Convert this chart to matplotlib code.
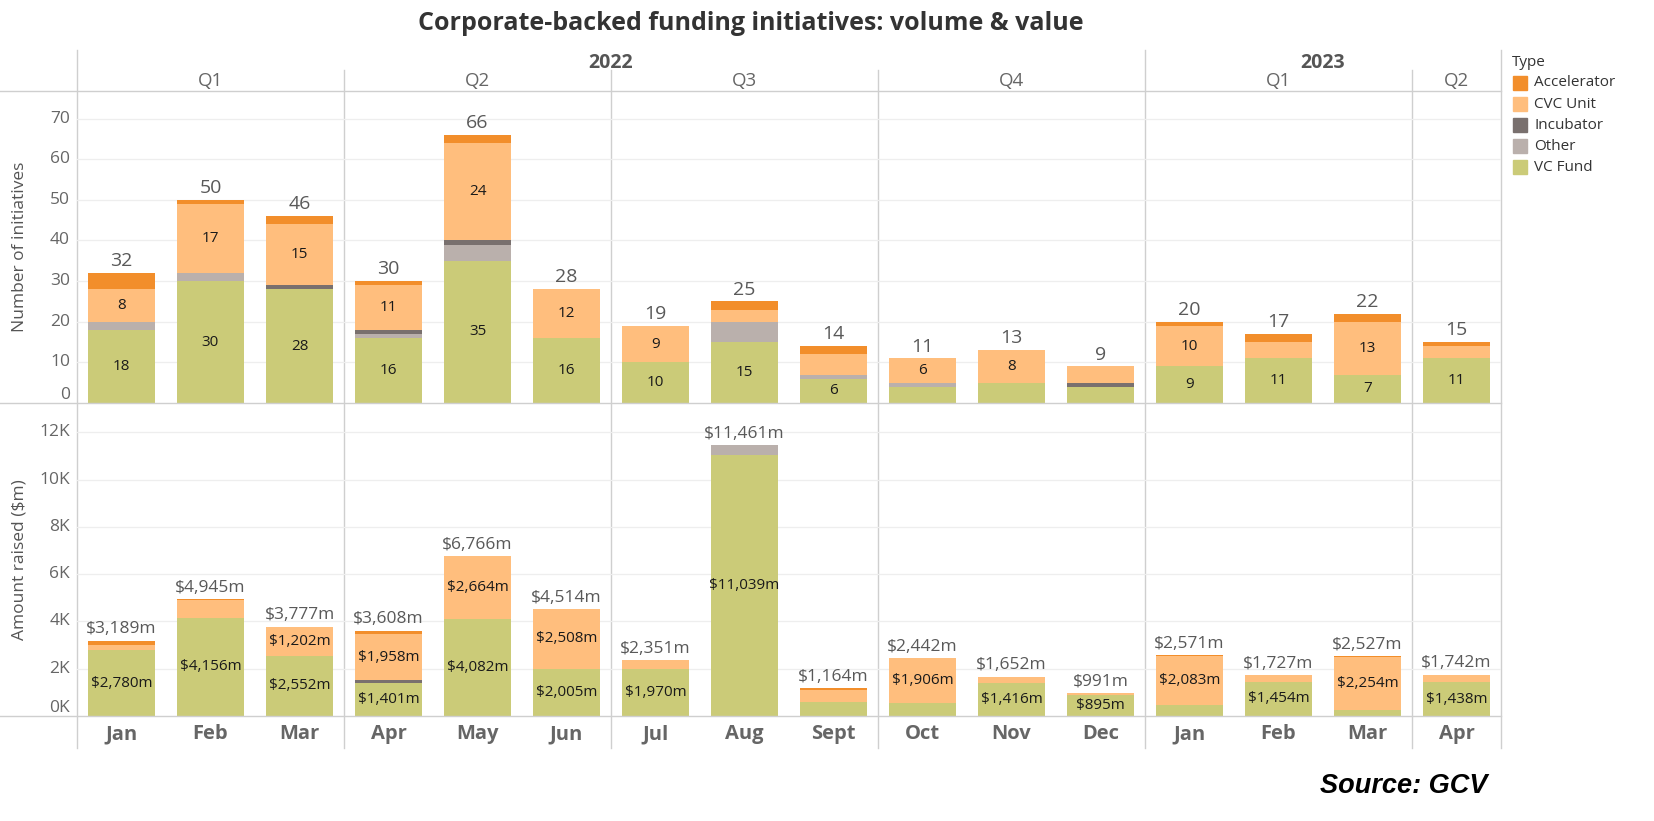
import numpy as np
import matplotlib
matplotlib.use("Agg")
import matplotlib.pyplot as plt
from matplotlib.lines import Line2D
from matplotlib.patches import Rectangle
import matplotlib.transforms as mtransforms

plt.rcParams['font.family'] = ['Open Sans', 'DejaVu Sans']

# ---- data ----
months = ['Jan', 'Feb', 'Mar', 'Apr', 'May', 'Jun', 'Jul', 'Aug', 'Sept',
          'Oct', 'Nov', 'Dec', 'Jan', 'Feb', 'Mar', 'Apr']
quarters = ['Q1', 'Q2', 'Q3', 'Q4', 'Q1', 'Q2']
quarter_len = [3, 3, 3, 3, 3, 1]
years = ['2022', '2023']
year_len = [12, 4]

types = ['VC Fund', 'Other', 'Incubator', 'CVC Unit', 'Accelerator']  # stack order
colors = {'Accelerator': '#F28E2B', 'CVC Unit': '#FFBE7D', 'Incubator': '#79706E',
          'Other': '#BAB0AC', 'VC Fund': '#CBCB78'}

# number of initiatives
vc_n = [18, 30, 28, 16, 35, 16, 10, 15, 6, 4, 5, 4, 9, 11, 7, 11]
oth_n = [2, 2, 0, 1, 4, 0, 0, 5, 1, 1, 0, 0, 0, 0, 0, 0]
inc_n = [0, 0, 1, 1, 1, 0, 0, 0, 0, 0, 0, 1, 0, 0, 0, 0]
cvc_n = [8, 17, 15, 11, 24, 12, 9, 3, 5, 6, 8, 4, 10, 4, 13, 3]
acc_n = [4, 1, 2, 1, 2, 0, 0, 2, 2, 0, 0, 0, 1, 2, 2, 1]

# amount raised ($m)
vc_a = [2780, 4156, 2552, 1401, 4082, 2005, 1970, 11039, 593, 536, 1416, 895, 466, 1454, 254, 1438]
oth_a = [0, 0, 0, 0, 20, 0, 0, 409, 0, 0, 0, 0, 0, 0, 0, 0]
inc_a = [0, 0, 0, 108, 0, 0, 0, 0, 0, 0, 0, 0, 0, 0, 0, 0]
cvc_a = [210, 759, 1202, 1958, 2664, 2508, 381, 0, 508, 1906, 236, 96, 2083, 263, 2254, 294]
acc_a = [199, 30, 23, 141, 0, 1, 0, 13, 63, 0, 0, 0, 22, 10, 19, 10]

counts = {'VC Fund': vc_n, 'Other': oth_n, 'Incubator': inc_n, 'CVC Unit': cvc_n, 'Accelerator': acc_n}
amounts = {'VC Fund': vc_a, 'Other': oth_a, 'Incubator': inc_a, 'CVC Unit': cvc_a, 'Accelerator': acc_a}

# ---- layout helpers (pixel -> figure fraction) ----
W, H = 1654, 821
def fx(px): return px / W
def fy(py): return 1 - py / H

X0, X1 = 77, 1501
HEAD, MID, BASE = 91, 403, 716
LINE = '#cfcfcf'
GREY = '#666666'

fig = plt.figure(figsize=(W / 100, H / 100), dpi=100)
ax_top = fig.add_axes([fx(X0), fy(MID), fx(X1) - fx(X0), fy(HEAD) - fy(MID)])
ax_bot = fig.add_axes([fx(X0), fy(BASE), fx(X1) - fx(X0), fy(MID) - fy(BASE)])
frame = fig.add_axes([fx(X0), fy(748), fx(X1) - fx(X0), fy(50) - fy(748)])
frame.set_zorder(-1)
frame.set_xlim(-0.5, 15.5)
frame.set_ylim(748, 50)
frame.axis('off')

x = np.arange(len(months))
bar_w = 0.75


def draw_panel(ax, data, ymax, ticks, tick_fmt, total_fmt, seg_fmt, thresh, tot_size, tot_off):
    ax.set_facecolor('none')
    ax.set_xlim(-0.5, 15.5)
    ax.set_ylim(0, ymax)
    bottom = np.zeros(len(months))
    for t in types:
        vals = np.array(data[t], dtype=float)
        ax.bar(x, vals, bar_w, bottom=bottom, color=colors[t], linewidth=0, zorder=2)
        for i, v in enumerate(vals):
            if v >= thresh:
                ax.text(x[i], bottom[i] + v / 2, seg_fmt(v), ha='center', va='center',
                        fontsize=11, color='#1a1a1a', zorder=3)
        bottom += vals
    for i, tot in enumerate(bottom):
        ax.annotate(total_fmt(tot), (x[i], tot), xytext=(0, tot_off), textcoords='offset points',
                    ha='center', va='bottom', fontsize=tot_size, color='#595959')
    for tk in ticks[1:]:
        ax.axhline(tk, color='#eeeeee', linewidth=0.9, zorder=0)
    trans = mtransforms.blended_transform_factory(ax.transAxes, ax.transData)
    for tk in ticks:
        ax.text(-7 / (X1 - X0), tk, tick_fmt(tk), transform=trans, ha='right',
                va='bottom' if tk == 0 else 'center', fontsize=12.5, color=GREY)
    ax.set_xticks([])
    ax.set_yticks([])
    for s in ax.spines.values():
        s.set_visible(False)


draw_panel(ax_top, counts, 76.8, list(range(0, 71, 10)), lambda v: f'{v}',
           lambda v: f'{int(v)}', lambda v: f'{int(v)}', 6, 14, 2)
draw_panel(ax_bot, amounts, 13240, list(range(0, 12001, 2000)), lambda v: f'{v // 1000}K',
           lambda v: f'${int(v):,}m', lambda v: f'${int(v):,}m', 800, 12.5, 2.5)

ax_top.text(-57 / (X1 - X0), 0.5, 'Number of initiatives', transform=ax_top.transAxes,
            rotation=90, ha='center', va='center', fontsize=12.5, color='#555555')
ax_bot.text(-57 / (X1 - X0), 0.5, 'Amount raised ($m)', transform=ax_bot.transAxes,
            rotation=90, ha='center', va='center', fontsize=12.5, color='#555555')

# column dividers
year_edges = np.cumsum([0] + year_len) - 0.5
q_edges = np.cumsum([0] + quarter_len) - 0.5
for e in q_edges:
    top = 50 if e in year_edges else 70
    frame.plot([e, e], [top, 748], color=LINE, linewidth=1, clip_on=False)

# horizontal rules across the full width
for py in (HEAD, MID, BASE):
    fig.add_artist(Line2D([0, fx(X1)], [fy(py), fy(py)], color=LINE, linewidth=1))

# header labels
for i, y in enumerate(years):
    c = (year_edges[i] + year_edges[i + 1]) / 2
    frame.text(c, 63, y, ha='center', va='center', fontsize=14, fontweight='bold', color='#555555')
for i, q in enumerate(quarters):
    c = (q_edges[i] + q_edges[i + 1]) / 2
    frame.text(c, 81, q, ha='center', va='center', fontsize=13.5, color=GREY)
for i, m in enumerate(months):
    frame.text(x[i], 734, m, ha='center', va='center', fontsize=14.5, fontweight='bold', color=GREY)

# title
fig.text(fx(751), fy(24), 'Corporate-backed funding initiatives: volume & value', ha='center',
         va='center', fontsize=18, fontweight='bold', color='#333333')

# legend
fig.text(fx(1512), fy(63), 'Type', ha='left', va='center', fontsize=11, color='#333333')
for i, t in enumerate(['Accelerator', 'CVC Unit', 'Incubator', 'Other', 'VC Fund']):
    cy = 83 + i * 21.1
    fig.add_artist(Rectangle((fx(1513), fy(cy + 7)), 14 / W, 14 / H, color=colors[t],
                             transform=fig.transFigure))
    fig.text(fx(1534), fy(cy), t, ha='left', va='center', fontsize=11, color='#333333')

# source
fig.text(fx(1487), fy(786), 'Source: GCV', ha='right', va='center', fontsize=19.5,
         fontweight='bold', fontstyle='italic', family=['Liberation Sans', 'DejaVu Sans'],
         color='black')

fig.savefig('out.png', dpi=100)
